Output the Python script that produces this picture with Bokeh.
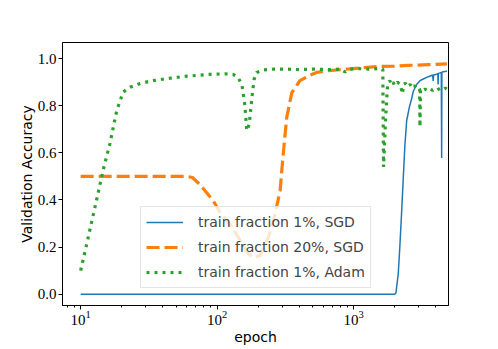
from bokeh.plotting import figure
from bokeh.models import Range1d, LogTicker, FixedTicker, NumeralTickFormatter, Legend, LegendItem
from bokeh.embed import file_html
from bokeh.resources import INLINE

# ---- data ----
sgd1_x = [10, 500, 2000, 2045, 2128, 2192, 2256, 2318, 2384, 2453, 2563, 2669, 2741, 2900, 3070,
          3250, 3437, 3650, 3800, 3840, 3860, 4000, 4070, 4150, 4170, 4190, 4300, 4400, 4428,
          4445, 4550, 4680, 4840]
sgd1_y = [0.0, 0.0, 0.0, 0.004, 0.086, 0.214, 0.355, 0.496, 0.637, 0.736, 0.792, 0.83, 0.86,
          0.89, 0.906, 0.913, 0.92, 0.926, 0.93, 0.905, 0.93, 0.932, 0.934, 0.936, 0.89, 0.937,
          0.939, 0.941, 0.578, 0.942, 0.944, 0.945, 0.946]

sgd20_x = [10, 30, 50, 60, 66, 75, 94, 105, 124, 143, 165, 185, 207, 238, 266, 290, 298, 306,
           324, 353, 405, 470, 537, 650, 800, 942, 1200, 1500, 2000, 2500, 3000, 3500, 4000, 4840]
sgd20_y = [0.5, 0.5, 0.5, 0.5, 0.495, 0.465, 0.395, 0.347, 0.298, 0.242, 0.178, 0.154, 0.164,
           0.242, 0.34, 0.44, 0.524, 0.6, 0.75, 0.855, 0.906, 0.927, 0.941, 0.948, 0.953, 0.956,
           0.962, 0.966, 0.968, 0.971, 0.972, 0.974, 0.975, 0.977]

adam_x = [10, 11.1, 13.2, 14.6, 16.4, 18.4, 20.5, 23, 27.3, 33, 42.8, 60, 89, 115, 131, 142,
          152, 160, 165, 172, 180, 187, 195, 220, 260, 320, 400, 500, 650, 800, 867, 930, 1100,
          1300, 1500, 1640, 1660, 1720, 1780, 1850, 1900, 1950, 2000, 2100, 2200, 2290, 2320,
          2400, 2500, 2600, 2700, 2800, 2900, 3000, 3050, 3070, 3100, 3200, 3350, 3500, 3650,
          3800, 3950, 4100, 4300, 4500, 4700, 4840]
adam_y = [0.10, 0.215, 0.41, 0.525, 0.64, 0.78, 0.858, 0.878, 0.894, 0.905, 0.915, 0.925,
          0.933, 0.935, 0.933, 0.92, 0.89, 0.80, 0.694, 0.72, 0.835, 0.913, 0.941, 0.952, 0.955,
          0.955, 0.953, 0.955, 0.953, 0.955, 0.943, 0.955, 0.957, 0.955, 0.957, 0.955, 0.54,
          0.75, 0.895, 0.905, 0.89, 0.9, 0.885, 0.9, 0.89, 0.85, 0.89, 0.895, 0.88, 0.89, 0.875,
          0.885, 0.87, 0.875, 0.87, 0.71, 0.87, 0.865, 0.87, 0.862, 0.87, 0.865, 0.872, 0.866,
          0.874, 0.868, 0.875, 0.87]

labels = ["train fraction 1%, SGD", "train fraction 20%, SGD", "train fraction 1%, Adam"]
y_ticks = [0.0, 0.2, 0.4, 0.6, 0.8, 1.0]

p = figure(width=498, height=349, x_axis_type="log",
           x_range=Range1d(7.36, 4970), y_range=Range1d(-0.048, 1.068),
           output_backend="svg", toolbar_location=None,
           min_border_left=62, min_border_right=50, min_border_top=42, min_border_bottom=44)
p.grid.visible = False
p.outline_line_color = "black"
p.outline_line_width = 1
p.outline_line_alpha = 1

r1 = p.line(sgd1_x, sgd1_y, color="#1f77b4", line_width=1.5)
r2 = p.line(sgd20_x, sgd20_y, color="#ff7f0e", line_width=3.2, line_dash="13 5")
r3 = p.line(adam_x, adam_y, color="#2ca02c", line_width=3.2, line_dash="3 5")

# axes
p.xaxis.ticker = LogTicker(num_minor_ticks=10, desired_num_ticks=3)
p.yaxis.ticker = FixedTicker(ticks=y_ticks)
p.yaxis.formatter = NumeralTickFormatter(format="0.0")
for ax in (p.xaxis[0], p.yaxis[0]):
    ax.axis_line_color = "black"
    ax.major_tick_line_color = "black"
    ax.minor_tick_line_color = "black"
    ax.major_tick_in = 0
    ax.major_tick_out = 4
    ax.minor_tick_in = 0
    ax.minor_tick_out = 2
    ax.major_label_text_font = "Liberation Serif"
    ax.major_label_text_font_size = "15px"
    ax.major_label_text_color = "black"
    ax.axis_label_text_font = "DejaVu Sans"
    ax.axis_label_text_font_size = "14px"
    ax.axis_label_text_font_style = "normal"
    ax.axis_label_text_color = "black"
p.yaxis.minor_tick_line_color = None
p.xaxis.axis_label = "epoch"
p.yaxis.axis_label = "Validation Accuracy"
p.xaxis.major_label_standoff = 1
p.xaxis.axis_label_standoff = 1
p.yaxis.major_label_standoff = 2
p.yaxis.axis_label_standoff = 0

legend = Legend(items=[LegendItem(label=labels[0], renderers=[r1]),
                       LegendItem(label=labels[1], renderers=[r2]),
                       LegendItem(label=labels[2], renderers=[r3])],
                location=(78, 17))
legend.label_text_font = "DejaVu Sans"
legend.label_text_font_size = "14px"
legend.glyph_width = 37
legend.glyph_height = 20
legend.label_height = 20
legend.spacing = 5
legend.padding = 5
legend.margin = 0
legend.label_standoff = 15
legend.border_line_color = "#cccccc"
legend.border_line_width = 1
legend.background_fill_alpha = 0.8
p.add_layout(legend, "center")

open("out.html", "w").write(file_html(p, INLINE))
